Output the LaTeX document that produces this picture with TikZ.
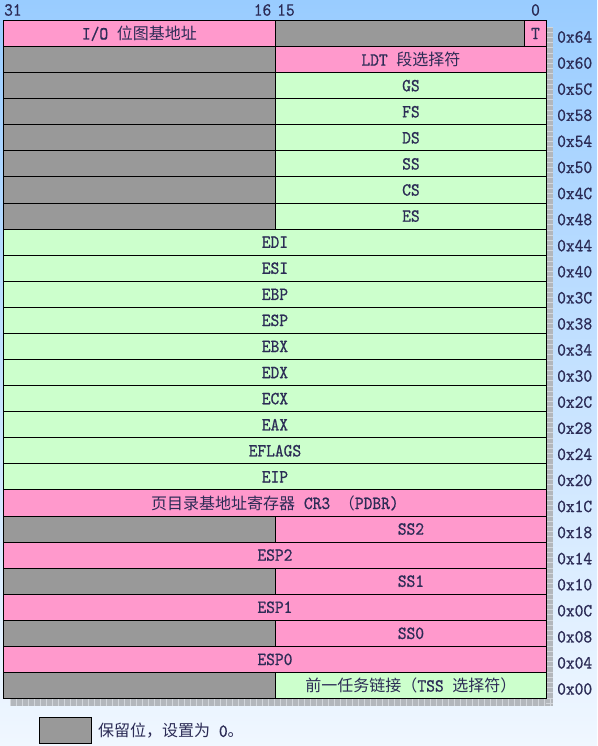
\documentclass[tikz,border=0pt]{standalone}
\usepackage{fontspec}
\newfontfamily\cjk{Noto Sans CJK SC}
\newfontfamily\latfam{lmmono10-regular.otf}[FakeStretch=0.9, FakeBold=0.7]
\definecolor{bgtop}{HTML}{99CCFF}
\definecolor{bgmid}{HTML}{C0DCF8}
\definecolor{bgbot}{HTML}{F0F7FF}
\definecolor{pk}{HTML}{FF99CC}
\definecolor{gr}{HTML}{CCFFCC}
\definecolor{rs}{HTML}{999999}
\definecolor{tx}{HTML}{2B2B55}
\definecolor{shd}{HTML}{B3B7BC}
\definecolor{shl}{HTML}{D2D6DB}
\newcommand\latf{\latfam\fontsize{18.5}{20}\selectfont}
\newcommand\zh[1]{{\cjk\fontsize{16}{18}\selectfont #1}}
\tikzset{
  cell/.style={draw=black, line width=0.9pt, inner sep=0pt, minimum height=26.08pt,
    text=tx, font=\latf, anchor=north west},
  resv/.style={cell, fill=rs},
  lbl/.style={text=tx, font=\latf, inner sep=0pt}
}
\begin{document}
\begin{tikzpicture}[x=1pt, y=-1pt]
\shade[top color=bgtop, middle color=bgmid, bottom color=bgbot] (0,0) rectangle (597,746);
\useasboundingbox (0,0) rectangle (597,746);
% shadow
\fill[shd] (546,27) rectangle (553,706);
\fill[shd] (10,698) rectangle (553,706);
\foreach \k in {0,...,130} {\draw[shl, line width=0.6pt] (546,{27+\k*5.2}) -- (553,{27+\k*5.2});}
\foreach \k in {0,...,90} {\draw[shl, line width=0.6pt] ({10+\k*6},698) -- ({10+\k*6},706);}
% header
\node[lbl, anchor=west] (h31) at (4,10) {31};
\node[lbl, anchor=east] (h16) at (271.5,10) {16};
\node[lbl, anchor=west] (h15) at (277,10) {15};
\node[lbl] (h0) at (535.5,10) {0};
% row 0
\node[cell, fill=pk, minimum width=272pt] (l0) at (3,20) {I/O \zh{位图基地址}};
\node[resv, minimum width=249pt] (m0) at (275,20) {};
\node[cell, fill=pk, minimum width=22pt] (t0) at (524,20) {T};
% split rows
\foreach \i/\c/\txt in {1/pk/{LDT \zh{段选择符}}, 2/gr/GS, 3/gr/FS, 4/gr/DS, 5/gr/SS, 6/gr/CS, 7/gr/ES,
    19/pk/SS2, 21/pk/SS1, 23/pk/SS0, 25/gr/{\zh{前一任务链接（}TSS \zh{选择符）}}} {
  \node[resv, minimum width=272pt] (l\i) at (3,{20+\i*26.08}) {};
  \node[cell, fill=\c, minimum width=271pt] (r\i) at (275,{20+\i*26.08}) {\txt};
}
% full rows
\foreach \i/\c/\txt in {8/gr/EDI, 9/gr/ESI, 10/gr/EBP, 11/gr/ESP, 12/gr/EBX, 13/gr/EDX, 14/gr/ECX,
    15/gr/EAX, 16/gr/EFLAGS, 17/gr/EIP, 18/pk/{\zh{页目录基地址寄存器} CR3 \zh{（}PDBR)},
    20/pk/ESP2, 22/pk/ESP1, 24/pk/ESP0} {
  \node[cell, fill=\c, minimum width=543pt] (f\i) at (3,{20+\i*26.08}) {\txt};
}
% offsets
\foreach \i/\o in {0/0x64, 1/0x60, 2/0x5C, 3/0x58, 4/0x54, 5/0x50, 6/0x4C, 7/0x48, 8/0x44,
    9/0x40, 10/0x3C, 11/0x38, 12/0x34, 13/0x30, 14/0x2C, 15/0x28, 16/0x24, 17/0x20, 18/0x1C,
    19/0x18, 20/0x14, 21/0x10, 22/0x0C, 23/0x08, 24/0x04, 25/0x00} {
  \node[lbl, anchor=west] (o\i) at (557,{37+\i*26.08}) {\o};
}
% legend
\node[draw=black, line width=1pt, fill=rs, minimum width=52pt, minimum height=26pt, inner sep=0pt] (lg) at (65,730) {};
\node[lbl, anchor=west] (lgt) at (98,731) {\zh{保留位，设置为} 0\zh{。}};
\end{tikzpicture}
\end{document}
